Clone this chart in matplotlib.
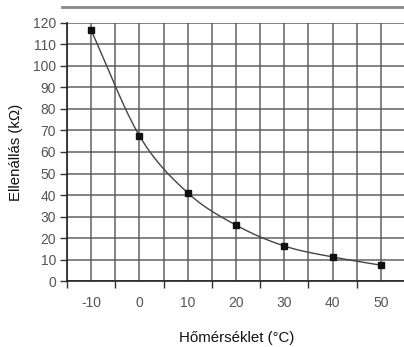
import numpy as np
import matplotlib
matplotlib.use("Agg")
import matplotlib.pyplot as plt
from matplotlib.lines import Line2D

# data
temps = [-10, 0, 10, 20, 30, 40, 50]
resist = [116.5, 67.5, 41, 26, 16.3, 11.2, 7.4]
x_labels = ["-10", "0", "10", "20", "30", "40", "50"]


def catmull_rom(x, y, n=30):
    # smooth drawing line through the points (like Excel's smoothed line)
    x = np.asarray(x, float); y = np.asarray(y, float)
    px = np.concatenate([[2 * x[0] - x[1]], x, [2 * x[-1] - x[-2]]])
    py = np.concatenate([[2 * y[0] - y[1]], y, [2 * y[-1] - y[-2]]])
    xs, ys = [], []
    for i in range(1, len(px) - 2):
        t = np.linspace(0, 1, n, endpoint=False)
        for p, out in ((px, xs), (py, ys)):
            p0, p1, p2, p3 = p[i - 1], p[i], p[i + 1], p[i + 2]
            out.extend(0.5 * (2 * p1 + (-p0 + p2) * t + (2 * p0 - 5 * p1 + 4 * p2 - p3) * t ** 2
                              + (-p0 + 3 * p1 - 3 * p2 + p3) * t ** 3))
    xs.append(x[-1]); ys.append(y[-1])
    return np.array(xs), np.array(ys)


plt.rcParams["font.family"] = ["Liberation Sans", "DejaVu Sans"]
fig = plt.figure(figsize=(4.04, 3.47), dpi=100, facecolor="white")
ax = fig.add_axes([0.166, 0.190, 0.84, 0.744])
ax.set_facecolor("white")

sx, sy = catmull_rom(temps, resist)
ax.plot(sx, sy, color="#444444", lw=1.0, zorder=3)
ax.plot(temps, resist, ls="none", marker="s", ms=5, color="#111111", zorder=4)

ax.set_xlim(-15, 55.3)
ax.set_ylim(0, 120)
ax.set_xticks(temps)
ax.set_xticklabels(x_labels)
ax.set_xticks(np.arange(-15, 56, 10), minor=True)
ax.set_yticks(np.arange(0, 121, 10))
ax.tick_params(axis="x", which="major", length=0, pad=11, labelsize=10, labelcolor="#555555")
ax.tick_params(axis="x", which="minor", length=5, width=1, direction="out", color="#333333")
ax.tick_params(axis="y", length=5, width=1, direction="out", color="#333333",
               labelsize=10, labelcolor="#555555", pad=3)
ax.grid(True, which="both", color="#555555", lw=1.2, alpha=0.85)
ax.set_axisbelow(True)
for s in ("top", "right"):
    ax.spines[s].set_visible(False)
for s in ("left", "bottom"):
    ax.spines[s].set_color("#222222")
    ax.spines[s].set_linewidth(1.2)

ax.set_xlabel("Hőmérséklet (°C)", fontsize=10.8, labelpad=15, color="#111111")
ax.set_ylabel("Ellenállás (kΩ)", fontsize=10.8, labelpad=7, color="#111111")

# frame line across the top of the chart
fig.add_artist(Line2D([0.153, 1.0], [0.98, 0.98], transform=fig.transFigure,
                      color="#888888", lw=2))

fig.savefig("out.png", dpi=100)
